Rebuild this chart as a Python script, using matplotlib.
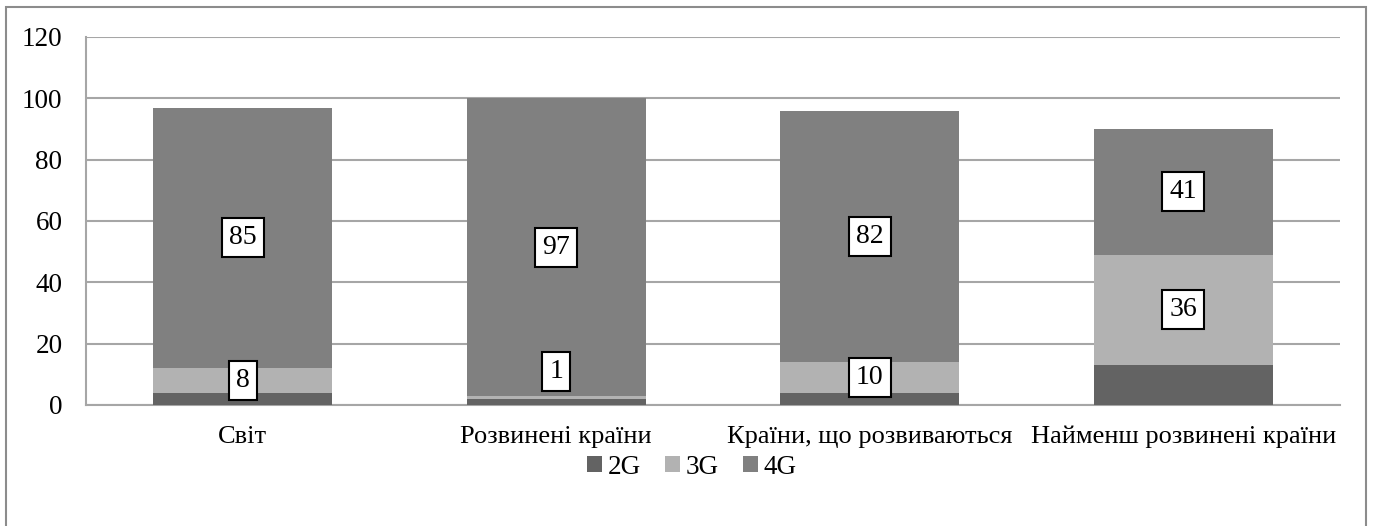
import matplotlib
matplotlib.use("Agg")
import matplotlib.pyplot as plt
import numpy as np

categories = ["Світ", "Розвинені країни", "Країни, що розвиваються", "Найменш розвинені країни"]
g2 = [4, 2, 4, 13]
g3 = [8, 1, 10, 36]
g4 = [85, 97, 82, 41]
series_names = ["2G", "3G", "4G"]
colors = ["#636363", "#b2b2b2", "#808080"]

plt.rcParams["font.family"] = ["Liberation Serif", "DejaVu Serif"]
FS = 19.5

fig = plt.figure(figsize=(13.73, 5.26), dpi=100)
ax = fig.add_axes([86 / 1373, 1 - 405 / 526, (1340 - 86) / 1373, (405 - 37) / 526])

# outer chart frame
frame = plt.Rectangle((6 / 1373, -0.01), (1366 - 6) / 1373, 1 - 7 / 526 + 0.01,
                      transform=fig.transFigure, fill=False, edgecolor="#8c8c8c", lw=1.5)
fig.patches.append(frame)

x = np.arange(len(categories))
width = 0.571
bottoms = np.zeros(len(categories))
segments = []
for vals, c, name in zip([g2, g3, g4], colors, series_names):
    ax.bar(x, vals, width, bottom=bottoms, color=c, label=name, zorder=3)
    segments.append((vals, bottoms.copy()))
    bottoms = bottoms + np.array(vals)

box = dict(boxstyle="square,pad=0.25", facecolor="white", edgecolor="black", lw=1.5)
# value labels for 3G and 4G segments
for vals, bot in segments[1:]:
    for i, (v, b0) in enumerate(zip(vals, bot)):
        yc = b0 + v / 2
        if v < 3:
            yc = b0 + v + 8
        ax.text(x[i], yc, str(v), ha="center", va="center", fontsize=FS + 0.5, bbox=box, zorder=5)

ax.set_ylim(0, 120)
ax.set_xlim(-0.5, len(categories) - 0.5)
ax.set_yticks(np.arange(0, 121, 20))
ax.yaxis.grid(True, color="#a6a6a6", lw=1.5, zorder=0)
ax.set_axisbelow(True)
ax.set_xticks(x)
ax.set_xticklabels(categories, fontsize=19)
ax.tick_params(axis="y", length=0, labelsize=FS, pad=17)
ax.tick_params(axis="x", length=0, labelsize=19, pad=15)
for s in ["top", "right"]:
    ax.spines[s].set_visible(False)
for s in ["left", "bottom"]:
    ax.spines[s].set_color("#a6a6a6")
    ax.spines[s].set_linewidth(1.5)

fig.legend(loc="center", bbox_to_anchor=(692 / 1373, 1 - 467 / 526), ncol=3,
           frameon=False, fontsize=FS, handlelength=0.55, handleheight=0.55,
           handletextpad=0.2, columnspacing=0.9)

fig.savefig("out.png", dpi=100)
